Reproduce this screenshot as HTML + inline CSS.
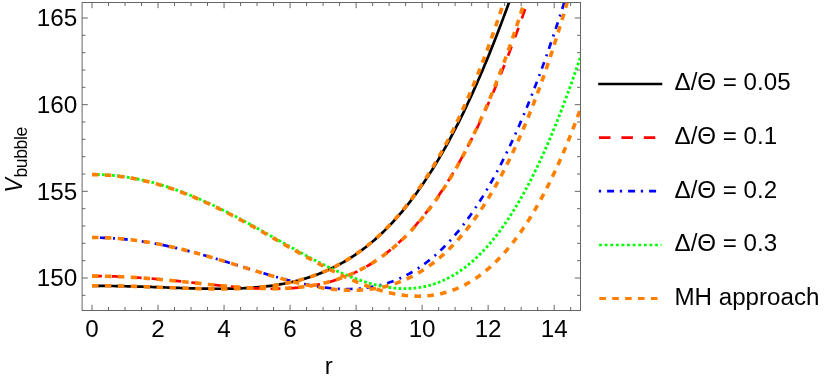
<!DOCTYPE html>
<html><head><meta charset="utf-8"><title>V bubble plot</title>
<style>
html,body{margin:0;padding:0;background:#fff;}
body{width:830px;height:381px;overflow:hidden;font-family:"Liberation Sans",sans-serif;}
svg{display:block;}
</style></head><body>
<svg width="830" height="381" viewBox="0 0 830 381">
<rect x="0" y="0" width="830" height="381" fill="#ffffff"/>
<defs><clipPath id="pc"><rect x="82.1" y="2.5" width="498.4" height="308.0"/></clipPath></defs>
<g clip-path="url(#pc)" fill="none" stroke-linecap="butt" stroke-linejoin="round">
<path d="M92.00,285.85 L93.23,285.85 L94.46,285.85 L95.68,285.85 L96.91,285.85 L98.14,285.86 L99.37,285.86 L100.60,285.87 L101.83,285.88 L103.05,285.89 L104.28,285.90 L105.51,285.91 L106.74,285.92 L107.97,285.94 L109.19,285.95 L110.42,285.97 L111.65,285.98 L112.88,286.00 L114.11,286.02 L115.34,286.04 L116.56,286.06 L117.79,286.08 L119.02,286.10 L120.25,286.13 L121.48,286.15 L122.70,286.18 L123.93,286.20 L125.16,286.23 L126.39,286.26 L127.62,286.29 L128.85,286.31 L130.07,286.35 L131.30,286.38 L132.53,286.41 L133.76,286.44 L134.99,286.47 L136.22,286.51 L137.44,286.54 L138.67,286.58 L139.90,286.62 L141.13,286.65 L142.36,286.69 L143.58,286.73 L144.81,286.77 L146.04,286.81 L147.27,286.85 L148.50,286.89 L149.73,286.93 L150.95,286.97 L152.18,287.01 L153.41,287.05 L154.64,287.09 L155.87,287.13 L157.09,287.18 L158.32,287.22 L159.55,287.26 L160.78,287.31 L162.01,287.35 L163.24,287.39 L164.46,287.44 L165.69,287.48 L166.92,287.52 L168.15,287.57 L169.38,287.61 L170.60,287.66 L171.83,287.70 L173.06,287.74 L174.29,287.78 L175.52,287.83 L176.75,287.87 L177.97,287.91 L179.20,287.95 L180.43,287.99 L181.66,288.03 L182.89,288.07 L184.11,288.11 L185.34,288.15 L186.57,288.19 L187.80,288.23 L189.03,288.27 L190.26,288.30 L191.48,288.34 L192.71,288.37 L193.94,288.40 L195.17,288.43 L196.40,288.47 L197.62,288.50 L198.85,288.52 L200.08,288.55 L201.31,288.58 L202.54,288.60 L203.77,288.63 L204.99,288.65 L206.22,288.67 L207.45,288.69 L208.68,288.70 L209.91,288.72 L211.13,288.73 L212.36,288.74 L213.59,288.75 L214.82,288.76 L216.05,288.77 L217.28,288.77 L218.50,288.77 L219.73,288.77 L220.96,288.77 L222.19,288.76 L223.42,288.76 L224.65,288.74 L225.87,288.73 L227.10,288.72 L228.33,288.70 L229.56,288.68 L230.79,288.65 L232.01,288.63 L233.24,288.60 L234.47,288.56 L235.70,288.53 L236.93,288.49 L238.16,288.45 L239.38,288.40 L240.61,288.35 L241.84,288.30 L243.07,288.24 L244.30,288.18 L245.52,288.11 L246.75,288.05 L247.98,287.97 L249.21,287.90 L250.44,287.82 L251.67,287.73 L252.89,287.64 L254.12,287.55 L255.35,287.45 L256.58,287.35 L257.81,287.24 L259.03,287.13 L260.26,287.01 L261.49,286.89 L262.72,286.77 L263.95,286.63 L265.18,286.50 L266.40,286.35 L267.63,286.21 L268.86,286.05 L270.09,285.89 L271.32,285.73 L272.54,285.56 L273.77,285.38 L275.00,285.20 L276.23,285.01 L277.46,284.82 L278.69,284.62 L279.91,284.41 L281.14,284.19 L282.37,283.97 L283.60,283.75 L284.83,283.51 L286.05,283.27 L287.28,283.02 L288.51,282.77 L289.74,282.50 L290.97,282.23 L292.20,281.96 L293.42,281.67 L294.65,281.38 L295.88,281.08 L297.11,280.77 L298.34,280.45 L299.57,280.13 L300.79,279.79 L302.02,279.45 L303.25,279.10 L304.48,278.74 L305.71,278.37 L306.93,278.00 L308.16,277.61 L309.39,277.22 L310.62,276.81 L311.85,276.40 L313.08,275.98 L314.30,275.55 L315.53,275.10 L316.76,274.65 L317.99,274.19 L319.22,273.72 L320.44,273.24 L321.67,272.74 L322.90,272.24 L324.13,271.73 L325.36,271.20 L326.59,270.67 L327.81,270.12 L329.04,269.56 L330.27,269.00 L331.50,268.42 L332.73,267.82 L333.95,267.22 L335.18,266.61 L336.41,265.98 L337.64,265.34 L338.87,264.69 L340.10,264.03 L341.32,263.35 L342.55,262.67 L343.78,261.96 L345.01,261.25 L346.24,260.53 L347.46,259.79 L348.69,259.03 L349.92,258.27 L351.15,257.49 L352.38,256.70 L353.61,255.89 L354.83,255.07 L356.06,254.23 L357.29,253.39 L358.52,252.52 L359.75,251.64 L360.97,250.75 L362.20,249.85 L363.43,248.93 L364.66,247.99 L365.89,247.04 L367.12,246.07 L368.34,245.09 L369.57,244.09 L370.80,243.08 L372.03,242.05 L373.26,241.01 L374.48,239.94 L375.71,238.87 L376.94,237.78 L378.17,236.67 L379.40,235.54 L380.63,234.40 L381.85,233.24 L383.08,232.06 L384.31,230.87 L385.54,229.66 L386.77,228.43 L388.00,227.18 L389.22,225.92 L390.45,224.64 L391.68,223.34 L392.91,222.02 L394.14,220.69 L395.36,219.34 L396.59,217.97 L397.82,216.58 L399.05,215.17 L400.28,213.74 L401.51,212.29 L402.73,210.83 L403.96,209.35 L405.19,207.84 L406.42,206.32 L407.65,204.78 L408.87,203.22 L410.10,201.63 L411.33,200.03 L412.56,198.41 L413.79,196.77 L415.02,195.11 L416.24,193.43 L417.47,191.73 L418.70,190.00 L419.93,188.26 L421.16,186.50 L422.38,184.71 L423.61,182.91 L424.84,181.08 L426.07,179.23 L427.30,177.37 L428.53,175.48 L429.75,173.56 L430.98,171.63 L432.21,169.68 L433.44,167.70 L434.67,165.70 L435.89,163.68 L437.12,161.64 L438.35,159.58 L439.58,157.49 L440.81,155.39 L442.04,153.26 L443.26,151.10 L444.49,148.93 L445.72,146.73 L446.95,144.51 L448.18,142.27 L449.40,140.01 L450.63,137.72 L451.86,135.41 L453.09,133.08 L454.32,130.72 L455.55,128.34 L456.77,125.94 L458.00,123.52 L459.23,121.07 L460.46,118.60 L461.69,116.11 L462.92,113.59 L464.14,111.05 L465.37,108.49 L466.60,105.90 L467.83,103.29 L469.06,100.66 L470.28,98.01 L471.51,95.33 L472.74,92.62 L473.97,89.90 L475.20,87.15 L476.43,84.38 L477.65,81.58 L478.88,78.77 L480.11,75.93 L481.34,73.06 L482.57,70.17 L483.79,67.26 L485.02,64.33 L486.25,61.37 L487.48,58.39 L488.71,55.39 L489.94,52.37 L491.16,49.32 L492.39,46.25 L493.62,43.16 L494.85,40.04 L496.08,36.90 L497.30,33.74 L498.53,30.56 L499.76,27.35 L500.99,24.13 L502.22,20.88 L503.45,17.61 L504.67,14.32 L505.90,11.00 L507.13,7.67 L508.36,4.31 L509.59,0.93 L510.81,-2.47 L512.04,-5.89 L513.27,-9.33" stroke="#000000" stroke-width="2.7"/>
<path d="M92.00,276.05 L93.23,276.06 L94.46,276.06 L95.68,276.07 L96.91,276.07 L98.14,276.08 L99.37,276.10 L100.60,276.11 L101.83,276.13 L103.05,276.15 L104.28,276.17 L105.51,276.19 L106.74,276.22 L107.97,276.25 L109.19,276.28 L110.42,276.31 L111.65,276.35 L112.88,276.39 L114.11,276.42 L115.34,276.47 L116.56,276.51 L117.79,276.56 L119.02,276.61 L120.25,276.66 L121.48,276.71 L122.70,276.76 L123.93,276.82 L125.16,276.88 L126.39,276.94 L127.62,277.00 L128.85,277.07 L130.07,277.14 L131.30,277.21 L132.53,277.28 L133.76,277.35 L134.99,277.43 L136.22,277.50 L137.44,277.58 L138.67,277.66 L139.90,277.75 L141.13,277.83 L142.36,277.92 L143.58,278.01 L144.81,278.10 L146.04,278.19 L147.27,278.28 L148.50,278.38 L149.73,278.47 L150.95,278.57 L152.18,278.67 L153.41,278.77 L154.64,278.88 L155.87,278.98 L157.09,279.09 L158.32,279.20 L159.55,279.30 L160.78,279.42 L162.01,279.53 L163.24,279.64 L164.46,279.75 L165.69,279.87 L166.92,279.99 L168.15,280.10 L169.38,280.22 L170.60,280.34 L171.83,280.47 L173.06,280.59 L174.29,280.71 L175.52,280.83 L176.75,280.96 L177.97,281.09 L179.20,281.21 L180.43,281.34 L181.66,281.47 L182.89,281.60 L184.11,281.72 L185.34,281.85 L186.57,281.99 L187.80,282.12 L189.03,282.25 L190.26,282.38 L191.48,282.51 L192.71,282.64 L193.94,282.78 L195.17,282.91 L196.40,283.04 L197.62,283.17 L198.85,283.31 L200.08,283.44 L201.31,283.57 L202.54,283.70 L203.77,283.84 L204.99,283.97 L206.22,284.10 L207.45,284.23 L208.68,284.36 L209.91,284.49 L211.13,284.62 L212.36,284.75 L213.59,284.88 L214.82,285.00 L216.05,285.13 L217.28,285.26 L218.50,285.38 L219.73,285.51 L220.96,285.63 L222.19,285.75 L223.42,285.87 L224.65,285.99 L225.87,286.11 L227.10,286.22 L228.33,286.34 L229.56,286.45 L230.79,286.56 L232.01,286.67 L233.24,286.78 L234.47,286.88 L235.70,286.98 L236.93,287.09 L238.16,287.19 L239.38,287.28 L240.61,287.38 L241.84,287.47 L243.07,287.56 L244.30,287.65 L245.52,287.73 L246.75,287.81 L247.98,287.89 L249.21,287.97 L250.44,288.04 L251.67,288.11 L252.89,288.18 L254.12,288.25 L255.35,288.31 L256.58,288.36 L257.81,288.42 L259.03,288.47 L260.26,288.51 L261.49,288.56 L262.72,288.60 L263.95,288.63 L265.18,288.66 L266.40,288.69 L267.63,288.71 L268.86,288.73 L270.09,288.74 L271.32,288.75 L272.54,288.76 L273.77,288.76 L275.00,288.75 L276.23,288.74 L277.46,288.73 L278.69,288.71 L279.91,288.68 L281.14,288.65 L282.37,288.62 L283.60,288.57 L284.83,288.53 L286.05,288.47 L287.28,288.41 L288.51,288.35 L289.74,288.28 L290.97,288.20 L292.20,288.12 L293.42,288.03 L294.65,287.93 L295.88,287.83 L297.11,287.72 L298.34,287.60 L299.57,287.47 L300.79,287.34 L302.02,287.21 L303.25,287.06 L304.48,286.91 L305.71,286.74 L306.93,286.58 L308.16,286.40 L309.39,286.22 L310.62,286.02 L311.85,285.82 L313.08,285.61 L314.30,285.40 L315.53,285.17 L316.76,284.93 L317.99,284.69 L319.22,284.44 L320.44,284.18 L321.67,283.91 L322.90,283.63 L324.13,283.34 L325.36,283.04 L326.59,282.73 L327.81,282.41 L329.04,282.08 L330.27,281.74 L331.50,281.39 L332.73,281.03 L333.95,280.66 L335.18,280.28 L336.41,279.89 L337.64,279.49 L338.87,279.08 L340.10,278.65 L341.32,278.21 L342.55,277.77 L343.78,277.31 L345.01,276.84 L346.24,276.36 L347.46,275.86 L348.69,275.35 L349.92,274.83 L351.15,274.30 L352.38,273.76 L353.61,273.20 L354.83,272.63 L356.06,272.05 L357.29,271.46 L358.52,270.85 L359.75,270.22 L360.97,269.59 L362.20,268.94 L363.43,268.28 L364.66,267.60 L365.89,266.91 L367.12,266.20 L368.34,265.48 L369.57,264.75 L370.80,264.00 L372.03,263.23 L373.26,262.45 L374.48,261.66 L375.71,260.85 L376.94,260.03 L378.17,259.19 L379.40,258.33 L380.63,257.46 L381.85,256.57 L383.08,255.67 L384.31,254.75 L385.54,253.81 L386.77,252.86 L388.00,251.89 L389.22,250.90 L390.45,249.89 L391.68,248.87 L392.91,247.83 L394.14,246.78 L395.36,245.71 L396.59,244.61 L397.82,243.51 L399.05,242.38 L400.28,241.23 L401.51,240.07 L402.73,238.89 L403.96,237.69 L405.19,236.47 L406.42,235.23 L407.65,233.98 L408.87,232.70 L410.10,231.40 L411.33,230.09 L412.56,228.76 L413.79,227.40 L415.02,226.03 L416.24,224.63 L417.47,223.22 L418.70,221.79 L419.93,220.33 L421.16,218.86 L422.38,217.36 L423.61,215.85 L424.84,214.31 L426.07,212.75 L427.30,211.17 L428.53,209.57 L429.75,207.95 L430.98,206.31 L432.21,204.64 L433.44,202.96 L434.67,201.25 L435.89,199.52 L437.12,197.77 L438.35,195.99 L439.58,194.19 L440.81,192.37 L442.04,190.53 L443.26,188.67 L444.49,186.78 L445.72,184.87 L446.95,182.93 L448.18,180.98 L449.40,179.00 L450.63,176.99 L451.86,174.97 L453.09,172.92 L454.32,170.84 L455.55,168.74 L456.77,166.62 L458.00,164.48 L459.23,162.31 L460.46,160.11 L461.69,157.89 L462.92,155.65 L464.14,153.39 L465.37,151.09 L466.60,148.78 L467.83,146.44 L469.06,144.07 L470.28,141.68 L471.51,139.27 L472.74,136.83 L473.97,134.36 L475.20,131.87 L476.43,129.36 L477.65,126.82 L478.88,124.25 L480.11,121.66 L481.34,119.05 L482.57,116.41 L483.79,113.74 L485.02,111.05 L486.25,108.33 L487.48,105.59 L488.71,102.82 L489.94,100.03 L491.16,97.21 L492.39,94.36 L493.62,91.49 L494.85,88.60 L496.08,85.67 L497.30,82.73 L498.53,79.75 L499.76,76.75 L500.99,73.73 L502.22,70.68 L503.45,67.60 L504.67,64.50 L505.90,61.37 L507.13,58.22 L508.36,55.04 L509.59,51.84 L510.81,48.61 L512.04,45.35 L513.27,42.07 L514.50,38.77 L515.73,35.44 L516.96,32.08 L518.18,28.70 L519.41,25.29 L520.64,21.86 L521.87,18.40 L523.10,14.92 L524.32,11.42 L525.55,7.89 L526.78,4.33 L528.01,0.75 L529.24,-2.85 L530.47,-6.48 L531.69,-10.13" stroke="#ff0000" stroke-width="2.7" stroke-dasharray="9.9 10"/>
<path d="M92.00,237.62 L93.23,237.63 L94.46,237.63 L95.68,237.64 L96.91,237.66 L98.14,237.68 L99.37,237.71 L100.60,237.74 L101.83,237.77 L103.05,237.81 L104.28,237.86 L105.51,237.90 L106.74,237.96 L107.97,238.02 L109.19,238.08 L110.42,238.15 L111.65,238.22 L112.88,238.29 L114.11,238.38 L115.34,238.46 L116.56,238.55 L117.79,238.65 L119.02,238.75 L120.25,238.85 L121.48,238.96 L122.70,239.07 L123.93,239.19 L125.16,239.31 L126.39,239.43 L127.62,239.56 L128.85,239.70 L130.07,239.84 L131.30,239.98 L132.53,240.13 L133.76,240.28 L134.99,240.44 L136.22,240.60 L137.44,240.77 L138.67,240.94 L139.90,241.11 L141.13,241.29 L142.36,241.47 L143.58,241.65 L144.81,241.85 L146.04,242.04 L147.27,242.24 L148.50,242.44 L149.73,242.65 L150.95,242.86 L152.18,243.07 L153.41,243.29 L154.64,243.51 L155.87,243.74 L157.09,243.97 L158.32,244.20 L159.55,244.44 L160.78,244.68 L162.01,244.93 L163.24,245.18 L164.46,245.43 L165.69,245.68 L166.92,245.94 L168.15,246.21 L169.38,246.47 L170.60,246.74 L171.83,247.02 L173.06,247.29 L174.29,247.57 L175.52,247.86 L176.75,248.14 L177.97,248.43 L179.20,248.73 L180.43,249.02 L181.66,249.32 L182.89,249.62 L184.11,249.93 L185.34,250.24 L186.57,250.55 L187.80,250.86 L189.03,251.18 L190.26,251.50 L191.48,251.82 L192.71,252.15 L193.94,252.47 L195.17,252.80 L196.40,253.13 L197.62,253.47 L198.85,253.81 L200.08,254.15 L201.31,254.49 L202.54,254.83 L203.77,255.18 L204.99,255.53 L206.22,255.88 L207.45,256.23 L208.68,256.58 L209.91,256.94 L211.13,257.30 L212.36,257.66 L213.59,258.02 L214.82,258.38 L216.05,258.75 L217.28,259.11 L218.50,259.48 L219.73,259.85 L220.96,260.22 L222.19,260.59 L223.42,260.96 L224.65,261.33 L225.87,261.71 L227.10,262.08 L228.33,262.46 L229.56,262.84 L230.79,263.21 L232.01,263.59 L233.24,263.97 L234.47,264.35 L235.70,264.73 L236.93,265.11 L238.16,265.49 L239.38,265.87 L240.61,266.25 L241.84,266.63 L243.07,267.02 L244.30,267.40 L245.52,267.78 L246.75,268.16 L247.98,268.54 L249.21,268.92 L250.44,269.30 L251.67,269.67 L252.89,270.05 L254.12,270.43 L255.35,270.80 L256.58,271.18 L257.81,271.55 L259.03,271.93 L260.26,272.30 L261.49,272.67 L262.72,273.04 L263.95,273.40 L265.18,273.77 L266.40,274.13 L267.63,274.49 L268.86,274.86 L270.09,275.21 L271.32,275.57 L272.54,275.92 L273.77,276.28 L275.00,276.62 L276.23,276.97 L277.46,277.32 L278.69,277.66 L279.91,278.00 L281.14,278.33 L282.37,278.66 L283.60,278.99 L284.83,279.32 L286.05,279.64 L287.28,279.96 L288.51,280.28 L289.74,280.59 L290.97,280.90 L292.20,281.21 L293.42,281.51 L294.65,281.81 L295.88,282.10 L297.11,282.39 L298.34,282.67 L299.57,282.95 L300.79,283.23 L302.02,283.50 L303.25,283.76 L304.48,284.02 L305.71,284.28 L306.93,284.53 L308.16,284.77 L309.39,285.01 L310.62,285.24 L311.85,285.47 L313.08,285.69 L314.30,285.91 L315.53,286.12 L316.76,286.32 L317.99,286.52 L319.22,286.71 L320.44,286.90 L321.67,287.08 L322.90,287.25 L324.13,287.41 L325.36,287.57 L326.59,287.72 L327.81,287.86 L329.04,287.99 L330.27,288.12 L331.50,288.24 L332.73,288.35 L333.95,288.45 L335.18,288.55 L336.41,288.64 L337.64,288.72 L338.87,288.79 L340.10,288.85 L341.32,288.90 L342.55,288.94 L343.78,288.98 L345.01,289.00 L346.24,289.02 L347.46,289.02 L348.69,289.02 L349.92,289.01 L351.15,288.98 L352.38,288.95 L353.61,288.91 L354.83,288.85 L356.06,288.79 L357.29,288.71 L358.52,288.63 L359.75,288.53 L360.97,288.42 L362.20,288.30 L363.43,288.17 L364.66,288.03 L365.89,287.87 L367.12,287.71 L368.34,287.53 L369.57,287.34 L370.80,287.13 L372.03,286.92 L373.26,286.69 L374.48,286.45 L375.71,286.20 L376.94,285.93 L378.17,285.65 L379.40,285.36 L380.63,285.05 L381.85,284.73 L383.08,284.39 L384.31,284.05 L385.54,283.68 L386.77,283.31 L388.00,282.91 L389.22,282.51 L390.45,282.09 L391.68,281.65 L392.91,281.20 L394.14,280.73 L395.36,280.25 L396.59,279.76 L397.82,279.24 L399.05,278.71 L400.28,278.17 L401.51,277.61 L402.73,277.03 L403.96,276.44 L405.19,275.82 L406.42,275.20 L407.65,274.55 L408.87,273.89 L410.10,273.21 L411.33,272.51 L412.56,271.80 L413.79,271.07 L415.02,270.32 L416.24,269.55 L417.47,268.76 L418.70,267.96 L419.93,267.13 L421.16,266.29 L422.38,265.43 L423.61,264.55 L424.84,263.65 L426.07,262.73 L427.30,261.79 L428.53,260.83 L429.75,259.86 L430.98,258.86 L432.21,257.84 L433.44,256.80 L434.67,255.74 L435.89,254.66 L437.12,253.56 L438.35,252.44 L439.58,251.30 L440.81,250.13 L442.04,248.95 L443.26,247.74 L444.49,246.51 L445.72,245.26 L446.95,243.99 L448.18,242.69 L449.40,241.38 L450.63,240.04 L451.86,238.67 L453.09,237.29 L454.32,235.88 L455.55,234.45 L456.77,232.99 L458.00,231.52 L459.23,230.01 L460.46,228.49 L461.69,226.94 L462.92,225.37 L464.14,223.77 L465.37,222.15 L466.60,220.50 L467.83,218.83 L469.06,217.14 L470.28,215.42 L471.51,213.68 L472.74,211.91 L473.97,210.11 L475.20,208.29 L476.43,206.45 L477.65,204.58 L478.88,202.68 L480.11,200.76 L481.34,198.81 L482.57,196.84 L483.79,194.83 L485.02,192.81 L486.25,190.75 L487.48,188.67 L488.71,186.57 L489.94,184.44 L491.16,182.27 L492.39,180.09 L493.62,177.87 L494.85,175.63 L496.08,173.36 L497.30,171.07 L498.53,168.74 L499.76,166.39 L500.99,164.01 L502.22,161.61 L503.45,159.17 L504.67,156.71 L505.90,154.22 L507.13,151.70 L508.36,149.15 L509.59,146.58 L510.81,143.97 L512.04,141.34 L513.27,138.68 L514.50,135.99 L515.73,133.27 L516.96,130.52 L518.18,127.75 L519.41,124.94 L520.64,122.11 L521.87,119.25 L523.10,116.35 L524.32,113.43 L525.55,110.48 L526.78,107.50 L528.01,104.50 L529.24,101.46 L530.47,98.39 L531.69,95.29 L532.92,92.17 L534.15,89.01 L535.38,85.83 L536.61,82.61 L537.83,79.37 L539.06,76.10 L540.29,72.80 L541.52,69.46 L542.75,66.10 L543.98,62.71 L545.20,59.29 L546.43,55.84 L547.66,52.36 L548.89,48.85 L550.12,45.31 L551.35,41.75 L552.57,38.15 L553.80,34.52 L555.03,30.87 L556.26,27.18 L557.49,23.47 L558.71,19.73 L559.94,15.95 L561.17,12.15 L562.40,8.32 L563.63,4.46 L564.86,0.58 L566.08,-3.34 L567.31,-7.29 L568.54,-11.26" stroke="#0000ff" stroke-width="2.7" stroke-dasharray="2 5.9 6.9 6.2"/>
<path d="M92.00,174.37 L93.23,174.38 L94.46,174.39 L95.68,174.40 L96.91,174.43 L98.14,174.46 L99.37,174.50 L100.60,174.54 L101.83,174.59 L103.05,174.65 L104.28,174.71 L105.51,174.79 L106.74,174.86 L107.97,174.95 L109.19,175.04 L110.42,175.14 L111.65,175.24 L112.88,175.35 L114.11,175.47 L115.34,175.60 L116.56,175.73 L117.79,175.87 L119.02,176.01 L120.25,176.17 L121.48,176.33 L122.70,176.49 L123.93,176.66 L125.16,176.84 L126.39,177.03 L127.62,177.22 L128.85,177.42 L130.07,177.62 L131.30,177.83 L132.53,178.05 L133.76,178.28 L134.99,178.51 L136.22,178.74 L137.44,178.99 L138.67,179.24 L139.90,179.49 L141.13,179.76 L142.36,180.03 L143.58,180.30 L144.81,180.59 L146.04,180.87 L147.27,181.17 L148.50,181.47 L149.73,181.78 L150.95,182.09 L152.18,182.41 L153.41,182.74 L154.64,183.07 L155.87,183.41 L157.09,183.75 L158.32,184.10 L159.55,184.46 L160.78,184.82 L162.01,185.19 L163.24,185.56 L164.46,185.94 L165.69,186.32 L166.92,186.72 L168.15,187.11 L169.38,187.52 L170.60,187.92 L171.83,188.34 L173.06,188.76 L174.29,189.18 L175.52,189.62 L176.75,190.05 L177.97,190.49 L179.20,190.94 L180.43,191.39 L181.66,191.85 L182.89,192.32 L184.11,192.78 L185.34,193.26 L186.57,193.74 L187.80,194.22 L189.03,194.71 L190.26,195.21 L191.48,195.71 L192.71,196.21 L193.94,196.72 L195.17,197.23 L196.40,197.75 L197.62,198.28 L198.85,198.81 L200.08,199.34 L201.31,199.88 L202.54,200.42 L203.77,200.97 L204.99,201.52 L206.22,202.07 L207.45,202.63 L208.68,203.20 L209.91,203.77 L211.13,204.34 L212.36,204.92 L213.59,205.50 L214.82,206.08 L216.05,206.67 L217.28,207.27 L218.50,207.86 L219.73,208.46 L220.96,209.07 L222.19,209.68 L223.42,210.29 L224.65,210.90 L225.87,211.52 L227.10,212.14 L228.33,212.77 L229.56,213.40 L230.79,214.03 L232.01,214.66 L233.24,215.30 L234.47,215.94 L235.70,216.58 L236.93,217.23 L238.16,217.88 L239.38,218.53 L240.61,219.19 L241.84,219.84 L243.07,220.50 L244.30,221.16 L245.52,221.83 L246.75,222.49 L247.98,223.16 L249.21,223.83 L250.44,224.50 L251.67,225.18 L252.89,225.85 L254.12,226.53 L255.35,227.21 L256.58,227.89 L257.81,228.58 L259.03,229.26 L260.26,229.94 L261.49,230.63 L262.72,231.32 L263.95,232.01 L265.18,232.70 L266.40,233.39 L267.63,234.08 L268.86,234.77 L270.09,235.46 L271.32,236.16 L272.54,236.85 L273.77,237.54 L275.00,238.24 L276.23,238.93 L277.46,239.62 L278.69,240.32 L279.91,241.01 L281.14,241.70 L282.37,242.40 L283.60,243.09 L284.83,243.78 L286.05,244.47 L287.28,245.16 L288.51,245.85 L289.74,246.54 L290.97,247.23 L292.20,247.91 L293.42,248.60 L294.65,249.28 L295.88,249.96 L297.11,250.64 L298.34,251.32 L299.57,252.00 L300.79,252.67 L302.02,253.34 L303.25,254.01 L304.48,254.68 L305.71,255.34 L306.93,256.01 L308.16,256.67 L309.39,257.32 L310.62,257.98 L311.85,258.63 L313.08,259.28 L314.30,259.92 L315.53,260.56 L316.76,261.20 L317.99,261.83 L319.22,262.46 L320.44,263.09 L321.67,263.71 L322.90,264.32 L324.13,264.94 L325.36,265.55 L326.59,266.15 L327.81,266.75 L329.04,267.34 L330.27,267.93 L331.50,268.52 L332.73,269.10 L333.95,269.67 L335.18,270.24 L336.41,270.80 L337.64,271.36 L338.87,271.91 L340.10,272.45 L341.32,272.99 L342.55,273.52 L343.78,274.05 L345.01,274.56 L346.24,275.08 L347.46,275.58 L348.69,276.08 L349.92,276.57 L351.15,277.05 L352.38,277.53 L353.61,277.99 L354.83,278.45 L356.06,278.91 L357.29,279.35 L358.52,279.78 L359.75,280.21 L360.97,280.63 L362.20,281.04 L363.43,281.44 L364.66,281.83 L365.89,282.21 L367.12,282.59 L368.34,282.95 L369.57,283.30 L370.80,283.65 L372.03,283.98 L373.26,284.30 L374.48,284.62 L375.71,284.92 L376.94,285.21 L378.17,285.49 L379.40,285.76 L380.63,286.02 L381.85,286.27 L383.08,286.51 L384.31,286.73 L385.54,286.95 L386.77,287.15 L388.00,287.33 L389.22,287.51 L390.45,287.68 L391.68,287.83 L392.91,287.96 L394.14,288.09 L395.36,288.20 L396.59,288.30 L397.82,288.39 L399.05,288.46 L400.28,288.52 L401.51,288.56 L402.73,288.59 L403.96,288.61 L405.19,288.61 L406.42,288.59 L407.65,288.56 L408.87,288.52 L410.10,288.46 L411.33,288.39 L412.56,288.30 L413.79,288.19 L415.02,288.07 L416.24,287.93 L417.47,287.78 L418.70,287.61 L419.93,287.42 L421.16,287.21 L422.38,286.99 L423.61,286.75 L424.84,286.50 L426.07,286.23 L427.30,285.93 L428.53,285.63 L429.75,285.30 L430.98,284.95 L432.21,284.59 L433.44,284.21 L434.67,283.81 L435.89,283.39 L437.12,282.95 L438.35,282.49 L439.58,282.01 L440.81,281.51 L442.04,281.00 L443.26,280.46 L444.49,279.90 L445.72,279.32 L446.95,278.72 L448.18,278.10 L449.40,277.46 L450.63,276.80 L451.86,276.12 L453.09,275.41 L454.32,274.69 L455.55,273.94 L456.77,273.17 L458.00,272.38 L459.23,271.56 L460.46,270.73 L461.69,269.87 L462.92,268.98 L464.14,268.08 L465.37,267.15 L466.60,266.20 L467.83,265.22 L469.06,264.22 L470.28,263.20 L471.51,262.15 L472.74,261.08 L473.97,259.98 L475.20,258.86 L476.43,257.72 L477.65,256.55 L478.88,255.35 L480.11,254.13 L481.34,252.89 L482.57,251.62 L483.79,250.32 L485.02,249.00 L486.25,247.65 L487.48,246.27 L488.71,244.87 L489.94,243.44 L491.16,241.99 L492.39,240.51 L493.62,239.00 L494.85,237.46 L496.08,235.90 L497.30,234.31 L498.53,232.69 L499.76,231.04 L500.99,229.37 L502.22,227.67 L503.45,225.94 L504.67,224.18 L505.90,222.40 L507.13,220.58 L508.36,218.74 L509.59,216.87 L510.81,214.97 L512.04,213.04 L513.27,211.08 L514.50,209.09 L515.73,207.07 L516.96,205.02 L518.18,202.95 L519.41,200.84 L520.64,198.70 L521.87,196.53 L523.10,194.34 L524.32,192.11 L525.55,189.85 L526.78,187.57 L528.01,185.25 L529.24,182.90 L530.47,180.52 L531.69,178.11 L532.92,175.67 L534.15,173.19 L535.38,170.69 L536.61,168.15 L537.83,165.59 L539.06,162.99 L540.29,160.36 L541.52,157.70 L542.75,155.01 L543.98,152.29 L545.20,149.53 L546.43,146.75 L547.66,143.93 L548.89,141.08 L550.12,138.20 L551.35,135.28 L552.57,132.34 L553.80,129.36 L555.03,126.35 L556.26,123.31 L557.49,120.23 L558.71,117.13 L559.94,113.99 L561.17,110.82 L562.40,107.61 L563.63,104.38 L564.86,101.11 L566.08,97.81 L567.31,94.48 L568.54,91.12 L569.77,87.73 L571.00,84.30 L572.22,80.84 L573.45,77.35 L574.68,73.82 L575.91,70.27 L577.14,66.68 L578.37,63.06 L579.59,59.41 L580.82,55.73 L582.05,52.01" stroke="#00ff00" stroke-width="2.85" stroke-dasharray="2.7 2.31"/>
<path d="M92.00,285.69 L93.23,285.69 L94.46,285.69 L95.68,285.70 L96.91,285.70 L98.14,285.71 L99.37,285.71 L100.60,285.72 L101.83,285.73 L103.05,285.74 L104.28,285.75 L105.51,285.76 L106.74,285.78 L107.97,285.79 L109.19,285.81 L110.42,285.83 L111.65,285.84 L112.88,285.86 L114.11,285.88 L115.34,285.91 L116.56,285.93 L117.79,285.95 L119.02,285.98 L120.25,286.00 L121.48,286.03 L122.70,286.06 L123.93,286.08 L125.16,286.11 L126.39,286.15 L127.62,286.18 L128.85,286.21 L130.07,286.24 L131.30,286.28 L132.53,286.31 L133.76,286.35 L134.99,286.38 L136.22,286.42 L137.44,286.46 L138.67,286.50 L139.90,286.54 L141.13,286.58 L142.36,286.62 L143.58,286.66 L144.81,286.71 L146.04,286.75 L147.27,286.79 L148.50,286.84 L149.73,286.88 L150.95,286.93 L152.18,286.97 L153.41,287.02 L154.64,287.06 L155.87,287.11 L157.09,287.16 L158.32,287.20 L159.55,287.25 L160.78,287.30 L162.01,287.35 L163.24,287.39 L164.46,287.44 L165.69,287.49 L166.92,287.54 L168.15,287.59 L169.38,287.63 L170.60,287.68 L171.83,287.73 L173.06,287.78 L174.29,287.82 L175.52,287.87 L176.75,287.92 L177.97,287.96 L179.20,288.01 L180.43,288.05 L181.66,288.10 L182.89,288.14 L184.11,288.18 L185.34,288.23 L186.57,288.27 L187.80,288.31 L189.03,288.35 L190.26,288.39 L191.48,288.43 L192.71,288.47 L193.94,288.50 L195.17,288.54 L196.40,288.57 L197.62,288.61 L198.85,288.64 L200.08,288.67 L201.31,288.70 L202.54,288.72 L203.77,288.75 L204.99,288.77 L206.22,288.80 L207.45,288.82 L208.68,288.84 L209.91,288.86 L211.13,288.87 L212.36,288.89 L213.59,288.90 L214.82,288.91 L216.05,288.91 L217.28,288.92 L218.50,288.92 L219.73,288.92 L220.96,288.92 L222.19,288.92 L223.42,288.91 L224.65,288.90 L225.87,288.89 L227.10,288.88 L228.33,288.86 L229.56,288.84 L230.79,288.82 L232.01,288.79 L233.24,288.76 L234.47,288.73 L235.70,288.69 L236.93,288.65 L238.16,288.61 L239.38,288.56 L240.61,288.51 L241.84,288.46 L243.07,288.40 L244.30,288.34 L245.52,288.27 L246.75,288.20 L247.98,288.13 L249.21,288.05 L250.44,287.97 L251.67,287.89 L252.89,287.80 L254.12,287.70 L255.35,287.60 L256.58,287.50 L257.81,287.39 L259.03,287.27 L260.26,287.15 L261.49,287.03 L262.72,286.90 L263.95,286.77 L265.18,286.63 L266.40,286.48 L267.63,286.33 L268.86,286.17 L270.09,286.01 L271.32,285.84 L272.54,285.67 L273.77,285.49 L275.00,285.31 L276.23,285.11 L277.46,284.91 L278.69,284.71 L279.91,284.50 L281.14,284.28 L282.37,284.06 L283.60,283.82 L284.83,283.59 L286.05,283.34 L287.28,283.09 L288.51,282.83 L289.74,282.56 L290.97,282.29 L292.20,282.01 L293.42,281.72 L294.65,281.42 L295.88,281.11 L297.11,280.80 L298.34,280.48 L299.57,280.15 L300.79,279.81 L302.02,279.46 L303.25,279.11 L304.48,278.75 L305.71,278.37 L306.93,277.99 L308.16,277.60 L309.39,277.20 L310.62,276.79 L311.85,276.38 L313.08,275.95 L314.30,275.51 L315.53,275.06 L316.76,274.61 L317.99,274.14 L319.22,273.66 L320.44,273.18 L321.67,272.68 L322.90,272.17 L324.13,271.65 L325.36,271.12 L326.59,270.58 L327.81,270.03 L329.04,269.47 L330.27,268.90 L331.50,268.31 L332.73,267.72 L333.95,267.11 L335.18,266.49 L336.41,265.86 L337.64,265.22 L338.87,264.56 L340.10,263.89 L341.32,263.21 L342.55,262.52 L343.78,261.82 L345.01,261.10 L346.24,260.37 L347.46,259.62 L348.69,258.87 L349.92,258.10 L351.15,257.31 L352.38,256.51 L353.61,255.70 L354.83,254.88 L356.06,254.04 L357.29,253.18 L358.52,252.32 L359.75,251.43 L360.97,250.54 L362.20,249.62 L363.43,248.70 L364.66,247.75 L365.89,246.80 L367.12,245.82 L368.34,244.84 L369.57,243.83 L370.80,242.81 L372.03,241.78 L373.26,240.73 L374.48,239.66 L375.71,238.57 L376.94,237.47 L378.17,236.35 L379.40,235.22 L380.63,234.07 L381.85,232.90 L383.08,231.71 L384.31,230.51 L385.54,229.29 L386.77,228.05 L388.00,226.79 L389.22,225.51 L390.45,224.22 L391.68,222.91 L392.91,221.58 L394.14,220.23 L395.36,218.86 L396.59,217.47 L397.82,216.06 L399.05,214.64 L400.28,213.19 L401.51,211.72 L402.73,210.24 L403.96,208.73 L405.19,207.20 L406.42,205.66 L407.65,204.09 L408.87,202.50 L410.10,200.89 L411.33,199.26 L412.56,197.61 L413.79,195.94 L415.02,194.24 L416.24,192.52 L417.47,190.78 L418.70,189.02 L419.93,187.24 L421.16,185.43 L422.38,183.60 L423.61,181.75 L424.84,179.88 L426.07,177.98 L427.30,176.06 L428.53,174.11 L429.75,172.14 L430.98,170.15 L432.21,168.13 L433.44,166.09 L434.67,164.02 L435.89,161.93 L437.12,159.82 L438.35,157.67 L439.58,155.51 L440.81,153.32 L442.04,151.10 L443.26,148.85 L444.49,146.59 L445.72,144.29 L446.95,141.97 L448.18,139.62 L449.40,137.24 L450.63,134.84 L451.86,132.41 L453.09,129.95 L454.32,127.47 L455.55,124.95 L456.77,122.41 L458.00,119.84 L459.23,117.25 L460.46,114.62 L461.69,111.96 L462.92,109.28 L464.14,106.57 L465.37,103.82 L466.60,101.05 L467.83,98.25 L469.06,95.42 L470.28,92.56 L471.51,89.66 L472.74,86.74 L473.97,83.79 L475.20,80.80 L476.43,77.78 L477.65,74.74 L478.88,71.66 L480.11,68.55 L481.34,65.40 L482.57,62.23 L483.79,59.02 L485.02,55.78 L486.25,52.50 L487.48,49.20 L488.71,45.86 L489.94,42.48 L491.16,39.07 L492.39,35.63 L493.62,32.16 L494.85,28.65 L496.08,25.10 L497.30,21.52 L498.53,17.90 L499.76,14.25 L500.99,10.57 L502.22,6.85 L503.45,3.09 L504.67,-0.71 L505.90,-4.54 L507.13,-8.40" stroke="#ff8000" stroke-width="3.6" stroke-dasharray="6.5 6.41"/>
<path d="M92.00,276.10 L93.23,276.10 L94.46,276.10 L95.68,276.11 L96.91,276.12 L98.14,276.13 L99.37,276.14 L100.60,276.16 L101.83,276.17 L103.05,276.19 L104.28,276.22 L105.51,276.24 L106.74,276.27 L107.97,276.30 L109.19,276.33 L110.42,276.36 L111.65,276.40 L112.88,276.44 L114.11,276.48 L115.34,276.52 L116.56,276.56 L117.79,276.61 L119.02,276.66 L120.25,276.71 L121.48,276.76 L122.70,276.82 L123.93,276.88 L125.16,276.94 L126.39,277.00 L127.62,277.06 L128.85,277.13 L130.07,277.20 L131.30,277.27 L132.53,277.34 L133.76,277.42 L134.99,277.49 L136.22,277.57 L137.44,277.65 L138.67,277.73 L139.90,277.82 L141.13,277.90 L142.36,277.99 L143.58,278.08 L144.81,278.17 L146.04,278.26 L147.27,278.36 L148.50,278.45 L149.73,278.55 L150.95,278.65 L152.18,278.75 L153.41,278.85 L154.64,278.96 L155.87,279.06 L157.09,279.17 L158.32,279.28 L159.55,279.39 L160.78,279.50 L162.01,279.61 L163.24,279.72 L164.46,279.84 L165.69,279.96 L166.92,280.07 L168.15,280.19 L169.38,280.31 L170.60,280.43 L171.83,280.55 L173.06,280.68 L174.29,280.80 L175.52,280.92 L176.75,281.05 L177.97,281.17 L179.20,281.30 L180.43,281.43 L181.66,281.56 L182.89,281.69 L184.11,281.81 L185.34,281.94 L186.57,282.07 L187.80,282.20 L189.03,282.34 L190.26,282.47 L191.48,282.60 L192.71,282.73 L193.94,282.86 L195.17,282.99 L196.40,283.12 L197.62,283.26 L198.85,283.39 L200.08,283.52 L201.31,283.65 L202.54,283.78 L203.77,283.91 L204.99,284.04 L206.22,284.17 L207.45,284.30 L208.68,284.43 L209.91,284.56 L211.13,284.69 L212.36,284.81 L213.59,284.94 L214.82,285.07 L216.05,285.19 L217.28,285.31 L218.50,285.44 L219.73,285.56 L220.96,285.68 L222.19,285.80 L223.42,285.91 L224.65,286.03 L225.87,286.14 L227.10,286.26 L228.33,286.37 L229.56,286.48 L230.79,286.58 L232.01,286.69 L233.24,286.79 L234.47,286.90 L235.70,287.00 L236.93,287.09 L238.16,287.19 L239.38,287.28 L240.61,287.37 L241.84,287.46 L243.07,287.55 L244.30,287.63 L245.52,287.71 L246.75,287.79 L247.98,287.87 L249.21,287.94 L250.44,288.01 L251.67,288.07 L252.89,288.14 L254.12,288.19 L255.35,288.25 L256.58,288.30 L257.81,288.35 L259.03,288.40 L260.26,288.44 L261.49,288.48 L262.72,288.51 L263.95,288.54 L265.18,288.57 L266.40,288.59 L267.63,288.61 L268.86,288.62 L270.09,288.63 L271.32,288.63 L272.54,288.63 L273.77,288.63 L275.00,288.62 L276.23,288.60 L277.46,288.58 L278.69,288.56 L279.91,288.53 L281.14,288.49 L282.37,288.45 L283.60,288.41 L284.83,288.35 L286.05,288.30 L287.28,288.23 L288.51,288.16 L289.74,288.09 L290.97,288.00 L292.20,287.92 L293.42,287.82 L294.65,287.72 L295.88,287.61 L297.11,287.50 L298.34,287.38 L299.57,287.25 L300.79,287.12 L302.02,286.97 L303.25,286.82 L304.48,286.67 L305.71,286.50 L306.93,286.33 L308.16,286.15 L309.39,285.97 L310.62,285.77 L311.85,285.57 L313.08,285.36 L314.30,285.14 L315.53,284.91 L316.76,284.67 L317.99,284.43 L319.22,284.18 L320.44,283.91 L321.67,283.64 L322.90,283.36 L324.13,283.07 L325.36,282.77 L326.59,282.46 L327.81,282.14 L329.04,281.82 L330.27,281.48 L331.50,281.13 L332.73,280.77 L333.95,280.40 L335.18,280.03 L336.41,279.64 L337.64,279.24 L338.87,278.83 L340.10,278.41 L341.32,277.97 L342.55,277.53 L343.78,277.08 L345.01,276.61 L346.24,276.13 L347.46,275.64 L348.69,275.14 L349.92,274.63 L351.15,274.10 L352.38,273.57 L353.61,273.02 L354.83,272.45 L356.06,271.88 L357.29,271.29 L358.52,270.69 L359.75,270.08 L360.97,269.45 L362.20,268.81 L363.43,268.15 L364.66,267.49 L365.89,266.81 L367.12,266.11 L368.34,265.40 L369.57,264.68 L370.80,263.94 L372.03,263.19 L373.26,262.42 L374.48,261.64 L375.71,260.84 L376.94,260.03 L378.17,259.20 L379.40,258.36 L380.63,257.50 L381.85,256.63 L383.08,255.74 L384.31,254.83 L385.54,253.91 L386.77,252.97 L388.00,252.02 L389.22,251.04 L390.45,250.06 L391.68,249.05 L392.91,248.03 L394.14,246.99 L395.36,245.93 L396.59,244.85 L397.82,243.76 L399.05,242.65 L400.28,241.52 L401.51,240.37 L402.73,239.21 L403.96,238.02 L405.19,236.82 L406.42,235.60 L407.65,234.36 L408.87,233.10 L410.10,231.82 L411.33,230.52 L412.56,229.20 L413.79,227.86 L415.02,226.50 L416.24,225.12 L417.47,223.72 L418.70,222.30 L419.93,220.86 L421.16,219.40 L422.38,217.91 L423.61,216.41 L424.84,214.88 L426.07,213.33 L427.30,211.76 L428.53,210.17 L429.75,208.56 L430.98,206.92 L432.21,205.26 L433.44,203.58 L434.67,201.87 L435.89,200.14 L437.12,198.39 L438.35,196.62 L439.58,194.82 L440.81,193.00 L442.04,191.15 L443.26,189.28 L444.49,187.38 L445.72,185.46 L446.95,183.52 L448.18,181.55 L449.40,179.55 L450.63,177.53 L451.86,175.49 L453.09,173.42 L454.32,171.32 L455.55,169.19 L456.77,167.04 L458.00,164.87 L459.23,162.66 L460.46,160.43 L461.69,158.18 L462.92,155.89 L464.14,153.58 L465.37,151.24 L466.60,148.87 L467.83,146.48 L469.06,144.05 L470.28,141.60 L471.51,139.12 L472.74,136.61 L473.97,134.07 L475.20,131.50 L476.43,128.90 L477.65,126.27 L478.88,123.61 L480.11,120.93 L481.34,118.21 L482.57,115.46 L483.79,112.68 L485.02,109.87 L486.25,107.03 L487.48,104.15 L488.71,101.25 L489.94,98.31 L491.16,95.34 L492.39,92.34 L493.62,89.31 L494.85,86.24 L496.08,83.14 L497.30,80.01 L498.53,76.85 L499.76,73.65 L500.99,70.41 L502.22,67.15 L503.45,63.85 L504.67,60.51 L505.90,57.14 L507.13,53.74 L508.36,50.30 L509.59,46.82 L510.81,43.31 L512.04,39.77 L513.27,36.19 L514.50,32.57 L515.73,28.91 L516.96,25.22 L518.18,21.49 L519.41,17.73 L520.64,13.93 L521.87,10.09 L523.10,6.21 L524.32,2.29 L525.55,-1.66 L526.78,-5.65 L528.01,-9.68" stroke="#ff8000" stroke-width="3.6" stroke-dasharray="6.5 6.41"/>
<path d="M92.00,237.44 L93.23,237.44 L94.46,237.45 L95.68,237.46 L96.91,237.48 L98.14,237.50 L99.37,237.53 L100.60,237.56 L101.83,237.59 L103.05,237.63 L104.28,237.68 L105.51,237.73 L106.74,237.78 L107.97,237.84 L109.19,237.90 L110.42,237.97 L111.65,238.04 L112.88,238.12 L114.11,238.20 L115.34,238.29 L116.56,238.38 L117.79,238.47 L119.02,238.57 L120.25,238.68 L121.48,238.79 L122.70,238.90 L123.93,239.02 L125.16,239.14 L126.39,239.27 L127.62,239.40 L128.85,239.54 L130.07,239.68 L131.30,239.82 L132.53,239.97 L133.76,240.13 L134.99,240.29 L136.22,240.45 L137.44,240.62 L138.67,240.79 L139.90,240.96 L141.13,241.14 L142.36,241.33 L143.58,241.51 L144.81,241.71 L146.04,241.90 L147.27,242.10 L148.50,242.31 L149.73,242.52 L150.95,242.73 L152.18,242.94 L153.41,243.17 L154.64,243.39 L155.87,243.62 L157.09,243.85 L158.32,244.09 L159.55,244.33 L160.78,244.57 L162.01,244.82 L163.24,245.07 L164.46,245.32 L165.69,245.58 L166.92,245.84 L168.15,246.11 L169.38,246.38 L170.60,246.65 L171.83,246.92 L173.06,247.20 L174.29,247.49 L175.52,247.77 L176.75,248.06 L177.97,248.35 L179.20,248.65 L180.43,248.95 L181.66,249.25 L182.89,249.55 L184.11,249.86 L185.34,250.17 L186.57,250.48 L187.80,250.80 L189.03,251.12 L190.26,251.44 L191.48,251.76 L192.71,252.09 L193.94,252.42 L195.17,252.75 L196.40,253.09 L197.62,253.43 L198.85,253.77 L200.08,254.11 L201.31,254.45 L202.54,254.80 L203.77,255.15 L204.99,255.50 L206.22,255.85 L207.45,256.20 L208.68,256.56 L209.91,256.92 L211.13,257.28 L212.36,257.64 L213.59,258.01 L214.82,258.37 L216.05,258.74 L217.28,259.11 L218.50,259.48 L219.73,259.85 L220.96,260.22 L222.19,260.59 L223.42,260.97 L224.65,261.34 L225.87,261.72 L227.10,262.10 L228.33,262.48 L229.56,262.86 L230.79,263.24 L232.01,263.62 L233.24,264.00 L234.47,264.38 L235.70,264.77 L236.93,265.15 L238.16,265.53 L239.38,265.92 L240.61,266.30 L241.84,266.69 L243.07,267.07 L244.30,267.45 L245.52,267.84 L246.75,268.22 L247.98,268.61 L249.21,268.99 L250.44,269.37 L251.67,269.75 L252.89,270.14 L254.12,270.52 L255.35,270.90 L256.58,271.28 L257.81,271.65 L259.03,272.03 L260.26,272.41 L261.49,272.78 L262.72,273.16 L263.95,273.53 L265.18,273.90 L266.40,274.27 L267.63,274.64 L268.86,275.00 L270.09,275.37 L271.32,275.73 L272.54,276.09 L273.77,276.45 L275.00,276.80 L276.23,277.16 L277.46,277.51 L278.69,277.86 L279.91,278.20 L281.14,278.55 L282.37,278.89 L283.60,279.22 L284.83,279.56 L286.05,279.89 L287.28,280.22 L288.51,280.55 L289.74,280.87 L290.97,281.19 L292.20,281.50 L293.42,281.81 L294.65,282.12 L295.88,282.43 L297.11,282.73 L298.34,283.02 L299.57,283.31 L300.79,283.60 L302.02,283.88 L303.25,284.16 L304.48,284.44 L305.71,284.71 L306.93,284.97 L308.16,285.23 L309.39,285.48 L310.62,285.73 L311.85,285.98 L313.08,286.22 L314.30,286.45 L315.53,286.68 L316.76,286.90 L317.99,287.12 L319.22,287.33 L320.44,287.53 L321.67,287.73 L322.90,287.92 L324.13,288.10 L325.36,288.28 L326.59,288.46 L327.81,288.62 L329.04,288.78 L330.27,288.93 L331.50,289.07 L332.73,289.21 L333.95,289.34 L335.18,289.46 L336.41,289.58 L337.64,289.68 L338.87,289.78 L340.10,289.87 L341.32,289.96 L342.55,290.03 L343.78,290.10 L345.01,290.15 L346.24,290.20 L347.46,290.24 L348.69,290.27 L349.92,290.30 L351.15,290.31 L352.38,290.31 L353.61,290.31 L354.83,290.29 L356.06,290.27 L357.29,290.23 L358.52,290.19 L359.75,290.13 L360.97,290.07 L362.20,289.99 L363.43,289.90 L364.66,289.81 L365.89,289.70 L367.12,289.58 L368.34,289.45 L369.57,289.31 L370.80,289.16 L372.03,288.99 L373.26,288.82 L374.48,288.63 L375.71,288.43 L376.94,288.22 L378.17,288.00 L379.40,287.76 L380.63,287.51 L381.85,287.25 L383.08,286.98 L384.31,286.69 L385.54,286.39 L386.77,286.08 L388.00,285.75 L389.22,285.41 L390.45,285.06 L391.68,284.69 L392.91,284.31 L394.14,283.91 L395.36,283.50 L396.59,283.08 L397.82,282.64 L399.05,282.18 L400.28,281.71 L401.51,281.23 L402.73,280.73 L403.96,280.21 L405.19,279.68 L406.42,279.14 L407.65,278.57 L408.87,277.99 L410.10,277.40 L411.33,276.79 L412.56,276.16 L413.79,275.52 L415.02,274.86 L416.24,274.18 L417.47,273.48 L418.70,272.77 L419.93,272.04 L421.16,271.29 L422.38,270.52 L423.61,269.74 L424.84,268.94 L426.07,268.11 L427.30,267.28 L428.53,266.42 L429.75,265.54 L430.98,264.64 L432.21,263.73 L433.44,262.79 L434.67,261.84 L435.89,260.86 L437.12,259.87 L438.35,258.85 L439.58,257.82 L440.81,256.76 L442.04,255.69 L443.26,254.59 L444.49,253.47 L445.72,252.33 L446.95,251.17 L448.18,249.99 L449.40,248.79 L450.63,247.56 L451.86,246.31 L453.09,245.04 L454.32,243.75 L455.55,242.44 L456.77,241.10 L458.00,239.74 L459.23,238.35 L460.46,236.94 L461.69,235.51 L462.92,234.06 L464.14,232.58 L465.37,231.07 L466.60,229.54 L467.83,227.99 L469.06,226.41 L470.28,224.81 L471.51,223.19 L472.74,221.53 L473.97,219.85 L475.20,218.15 L476.43,216.42 L477.65,214.66 L478.88,212.88 L480.11,211.07 L481.34,209.24 L482.57,207.37 L483.79,205.48 L485.02,203.57 L486.25,201.62 L487.48,199.65 L488.71,197.65 L489.94,195.62 L491.16,193.56 L492.39,191.48 L493.62,189.36 L494.85,187.22 L496.08,185.05 L497.30,182.85 L498.53,180.62 L499.76,178.36 L500.99,176.07 L502.22,173.74 L503.45,171.39 L504.67,169.01 L505.90,166.60 L507.13,164.15 L508.36,161.68 L509.59,159.17 L510.81,156.63 L512.04,154.06 L513.27,151.46 L514.50,148.83 L515.73,146.16 L516.96,143.46 L518.18,140.73 L519.41,137.96 L520.64,135.16 L521.87,132.33 L523.10,129.46 L524.32,126.56 L525.55,123.62 L526.78,120.65 L528.01,117.65 L529.24,114.61 L530.47,111.54 L531.69,108.43 L532.92,105.28 L534.15,102.10 L535.38,98.88 L536.61,95.63 L537.83,92.34 L539.06,89.01 L540.29,85.64 L541.52,82.24 L542.75,78.80 L543.98,75.33 L545.20,71.81 L546.43,68.26 L547.66,64.67 L548.89,61.04 L550.12,57.37 L551.35,53.66 L552.57,49.91 L553.80,46.13 L555.03,42.30 L556.26,38.43 L557.49,34.53 L558.71,30.58 L559.94,26.59 L561.17,22.56 L562.40,18.49 L563.63,14.38 L564.86,10.23 L566.08,6.03 L567.31,1.80 L568.54,-2.48 L569.77,-6.81 L571.00,-11.17" stroke="#ff8000" stroke-width="3.6" stroke-dasharray="6.5 6.41"/>
<path d="M92.00,174.63 L93.23,174.63 L94.46,174.64 L95.68,174.66 L96.91,174.68 L98.14,174.71 L99.37,174.75 L100.60,174.79 L101.83,174.85 L103.05,174.90 L104.28,174.97 L105.51,175.04 L106.74,175.12 L107.97,175.21 L109.19,175.30 L110.42,175.40 L111.65,175.51 L112.88,175.62 L114.11,175.74 L115.34,175.87 L116.56,176.00 L117.79,176.14 L119.02,176.29 L120.25,176.44 L121.48,176.60 L122.70,176.77 L123.93,176.94 L125.16,177.12 L126.39,177.31 L127.62,177.51 L128.85,177.71 L130.07,177.91 L131.30,178.13 L132.53,178.35 L133.76,178.57 L134.99,178.81 L136.22,179.05 L137.44,179.30 L138.67,179.55 L139.90,179.81 L141.13,180.07 L142.36,180.35 L143.58,180.63 L144.81,180.91 L146.04,181.20 L147.27,181.50 L148.50,181.81 L149.73,182.12 L150.95,182.43 L152.18,182.76 L153.41,183.08 L154.64,183.42 L155.87,183.76 L157.09,184.11 L158.32,184.46 L159.55,184.82 L160.78,185.19 L162.01,185.56 L163.24,185.94 L164.46,186.32 L165.69,186.71 L166.92,187.11 L168.15,187.51 L169.38,187.91 L170.60,188.33 L171.83,188.74 L173.06,189.17 L174.29,189.60 L175.52,190.03 L176.75,190.47 L177.97,190.92 L179.20,191.37 L180.43,191.83 L181.66,192.29 L182.89,192.76 L184.11,193.23 L185.34,193.71 L186.57,194.19 L187.80,194.68 L189.03,195.17 L190.26,195.67 L191.48,196.18 L192.71,196.68 L193.94,197.20 L195.17,197.72 L196.40,198.24 L197.62,198.77 L198.85,199.30 L200.08,199.84 L201.31,200.38 L202.54,200.93 L203.77,201.48 L204.99,202.03 L206.22,202.59 L207.45,203.16 L208.68,203.73 L209.91,204.30 L211.13,204.88 L212.36,205.46 L213.59,206.04 L214.82,206.63 L216.05,207.23 L217.28,207.82 L218.50,208.42 L219.73,209.03 L220.96,209.64 L222.19,210.25 L223.42,210.87 L224.65,211.49 L225.87,212.11 L227.10,212.73 L228.33,213.36 L229.56,214.00 L230.79,214.63 L232.01,215.27 L233.24,215.91 L234.47,216.56 L235.70,217.21 L236.93,217.86 L238.16,218.51 L239.38,219.17 L240.61,219.83 L241.84,220.49 L243.07,221.16 L244.30,221.82 L245.52,222.49 L246.75,223.16 L247.98,223.84 L249.21,224.51 L250.44,225.19 L251.67,225.87 L252.89,226.55 L254.12,227.24 L255.35,227.92 L256.58,228.61 L257.81,229.30 L259.03,229.99 L260.26,230.68 L261.49,231.38 L262.72,232.07 L263.95,232.77 L265.18,233.47 L266.40,234.16 L267.63,234.86 L268.86,235.56 L270.09,236.26 L271.32,236.97 L272.54,237.67 L273.77,238.37 L275.00,239.07 L276.23,239.78 L277.46,240.48 L278.69,241.19 L279.91,241.89 L281.14,242.60 L282.37,243.30 L283.60,244.00 L284.83,244.71 L286.05,245.41 L287.28,246.12 L288.51,246.82 L289.74,247.52 L290.97,248.22 L292.20,248.92 L293.42,249.62 L294.65,250.32 L295.88,251.02 L297.11,251.72 L298.34,252.41 L299.57,253.10 L300.79,253.80 L302.02,254.49 L303.25,255.18 L304.48,255.86 L305.71,256.55 L306.93,257.23 L308.16,257.91 L309.39,258.59 L310.62,259.27 L311.85,259.95 L313.08,260.62 L314.30,261.29 L315.53,261.95 L316.76,262.62 L317.99,263.28 L319.22,263.94 L320.44,264.59 L321.67,265.24 L322.90,265.89 L324.13,266.54 L325.36,267.18 L326.59,267.82 L327.81,268.45 L329.04,269.08 L330.27,269.70 L331.50,270.33 L332.73,270.94 L333.95,271.56 L335.18,272.17 L336.41,272.77 L337.64,273.37 L338.87,273.96 L340.10,274.55 L341.32,275.14 L342.55,275.72 L343.78,276.29 L345.01,276.86 L346.24,277.42 L347.46,277.98 L348.69,278.53 L349.92,279.08 L351.15,279.62 L352.38,280.15 L353.61,280.68 L354.83,281.20 L356.06,281.71 L357.29,282.22 L358.52,282.72 L359.75,283.22 L360.97,283.70 L362.20,284.18 L363.43,284.66 L364.66,285.12 L365.89,285.58 L367.12,286.03 L368.34,286.47 L369.57,286.91 L370.80,287.33 L372.03,287.75 L373.26,288.16 L374.48,288.56 L375.71,288.95 L376.94,289.34 L378.17,289.71 L379.40,290.08 L380.63,290.43 L381.85,290.78 L383.08,291.12 L384.31,291.45 L385.54,291.77 L386.77,292.08 L388.00,292.37 L389.22,292.66 L390.45,292.94 L391.68,293.21 L392.91,293.47 L394.14,293.72 L395.36,293.95 L396.59,294.18 L397.82,294.39 L399.05,294.59 L400.28,294.78 L401.51,294.96 L402.73,295.13 L403.96,295.29 L405.19,295.43 L406.42,295.57 L407.65,295.68 L408.87,295.79 L410.10,295.89 L411.33,295.97 L412.56,296.04 L413.79,296.09 L415.02,296.14 L416.24,296.17 L417.47,296.18 L418.70,296.18 L419.93,296.17 L421.16,296.15 L422.38,296.11 L423.61,296.05 L424.84,295.98 L426.07,295.90 L427.30,295.80 L428.53,295.69 L429.75,295.56 L430.98,295.42 L432.21,295.26 L433.44,295.09 L434.67,294.90 L435.89,294.69 L437.12,294.47 L438.35,294.23 L439.58,293.98 L440.81,293.71 L442.04,293.42 L443.26,293.11 L444.49,292.79 L445.72,292.45 L446.95,292.10 L448.18,291.72 L449.40,291.33 L450.63,290.92 L451.86,290.49 L453.09,290.05 L454.32,289.58 L455.55,289.10 L456.77,288.60 L458.00,288.08 L459.23,287.54 L460.46,286.98 L461.69,286.40 L462.92,285.80 L464.14,285.18 L465.37,284.54 L466.60,283.89 L467.83,283.21 L469.06,282.51 L470.28,281.79 L471.51,281.05 L472.74,280.29 L473.97,279.50 L475.20,278.70 L476.43,277.87 L477.65,277.02 L478.88,276.15 L480.11,275.26 L481.34,274.35 L482.57,273.41 L483.79,272.45 L485.02,271.47 L486.25,270.46 L487.48,269.43 L488.71,268.38 L489.94,267.31 L491.16,266.21 L492.39,265.08 L493.62,263.93 L494.85,262.76 L496.08,261.56 L497.30,260.34 L498.53,259.09 L499.76,257.82 L500.99,256.52 L502.22,255.20 L503.45,253.85 L504.67,252.48 L505.90,251.07 L507.13,249.65 L508.36,248.19 L509.59,246.71 L510.81,245.20 L512.04,243.67 L513.27,242.11 L514.50,240.52 L515.73,238.90 L516.96,237.25 L518.18,235.58 L519.41,233.88 L520.64,232.15 L521.87,230.39 L523.10,228.60 L524.32,226.78 L525.55,224.93 L526.78,223.06 L528.01,221.15 L529.24,219.21 L530.47,217.25 L531.69,215.25 L532.92,213.22 L534.15,211.16 L535.38,209.07 L536.61,206.95 L537.83,204.80 L539.06,202.61 L540.29,200.40 L541.52,198.15 L542.75,195.87 L543.98,193.56 L545.20,191.21 L546.43,188.83 L547.66,186.42 L548.89,183.97 L550.12,181.49 L551.35,178.98 L552.57,176.43 L553.80,173.85 L555.03,171.24 L556.26,168.59 L557.49,165.90 L558.71,163.18 L559.94,160.42 L561.17,157.63 L562.40,154.80 L563.63,151.94 L564.86,149.04 L566.08,146.10 L567.31,143.13 L568.54,140.12 L569.77,137.07 L571.00,133.99 L572.22,130.86 L573.45,127.70 L574.68,124.50 L575.91,121.27 L577.14,117.99 L578.37,114.68 L579.59,111.32 L580.82,107.93 L582.05,104.50" stroke="#ff8000" stroke-width="3.6" stroke-dasharray="6.5 6.41"/>
</g>
<path d="M92.00,310.5v-5.7M92.00,2.5v5.7M108.51,310.5v-3.5M108.51,2.5v3.5M125.01,310.5v-3.5M125.01,2.5v3.5M141.52,310.5v-3.5M141.52,2.5v3.5M158.02,310.5v-5.7M158.02,2.5v5.7M174.53,310.5v-3.5M174.53,2.5v3.5M191.04,310.5v-3.5M191.04,2.5v3.5M207.54,310.5v-3.5M207.54,2.5v3.5M224.05,310.5v-5.7M224.05,2.5v5.7M240.55,310.5v-3.5M240.55,2.5v3.5M257.06,310.5v-3.5M257.06,2.5v3.5M273.57,310.5v-3.5M273.57,2.5v3.5M290.07,310.5v-5.7M290.07,2.5v5.7M306.58,310.5v-3.5M306.58,2.5v3.5M323.08,310.5v-3.5M323.08,2.5v3.5M339.59,310.5v-3.5M339.59,2.5v3.5M356.10,310.5v-5.7M356.10,2.5v5.7M372.60,310.5v-3.5M372.60,2.5v3.5M389.11,310.5v-3.5M389.11,2.5v3.5M405.61,310.5v-3.5M405.61,2.5v3.5M422.12,310.5v-5.7M422.12,2.5v5.7M438.63,310.5v-3.5M438.63,2.5v3.5M455.13,310.5v-3.5M455.13,2.5v3.5M471.64,310.5v-3.5M471.64,2.5v3.5M488.14,310.5v-5.7M488.14,2.5v5.7M504.65,310.5v-3.5M504.65,2.5v3.5M521.16,310.5v-3.5M521.16,2.5v3.5M537.66,310.5v-3.5M537.66,2.5v3.5M554.17,310.5v-5.7M554.17,2.5v5.7M570.67,310.5v-3.5M570.67,2.5v3.5M82.1,295.33h3.4M580.5,295.33h-3.4M82.1,278.00h5.7M580.5,278.00h-5.7M82.1,260.67h3.4M580.5,260.67h-3.4M82.1,243.33h3.4M580.5,243.33h-3.4M82.1,226.00h3.4M580.5,226.00h-3.4M82.1,208.67h3.4M580.5,208.67h-3.4M82.1,191.33h5.7M580.5,191.33h-5.7M82.1,174.00h3.4M580.5,174.00h-3.4M82.1,156.67h3.4M580.5,156.67h-3.4M82.1,139.33h3.4M580.5,139.33h-3.4M82.1,122.00h3.4M580.5,122.00h-3.4M82.1,104.67h5.7M580.5,104.67h-5.7M82.1,87.33h3.4M580.5,87.33h-3.4M82.1,70.00h3.4M580.5,70.00h-3.4M82.1,52.67h3.4M580.5,52.67h-3.4M82.1,35.33h3.4M580.5,35.33h-3.4M82.1,18.00h5.7M580.5,18.00h-5.7" stroke="#666666" stroke-width="1" fill="none"/>
<rect x="82.1" y="2.5" width="498.4" height="308.0" fill="none" stroke="#666666" stroke-width="1"/>
<g font-family="'Liberation Sans', sans-serif" font-size="24.0" fill="#000" opacity="0.999">
<text x="92.00" y="337" text-anchor="middle" font-size="24.2">0</text>
<text x="158.02" y="337" text-anchor="middle" font-size="24.2">2</text>
<text x="224.05" y="337" text-anchor="middle" font-size="24.2">4</text>
<text x="290.07" y="337" text-anchor="middle" font-size="24.2">6</text>
<text x="356.10" y="337" text-anchor="middle" font-size="24.2">8</text>
<text x="422.12" y="337" text-anchor="middle" font-size="24.2">10</text>
<text x="488.14" y="337" text-anchor="middle" font-size="24.2">12</text>
<text x="554.17" y="337" text-anchor="middle" font-size="24.2">14</text>
<text x="77.3" y="286" text-anchor="end" font-size="24.3">150</text>
<text x="77.3" y="200" text-anchor="end" font-size="24.3">155</text>
<text x="77.3" y="113" text-anchor="end" font-size="24.3">160</text>
<text x="77.3" y="26" text-anchor="end" font-size="24.3">165</text>
<text x="328.8" y="374.2" text-anchor="middle">r</text>
<text transform="translate(21.8,192.6) rotate(-90) scale(0.9,1)" font-style="italic">V</text>
<text transform="translate(26.7,177.5) rotate(-90)" font-size="17.6" letter-spacing="-0.42">bubble</text>
<path d="M598.2,84.1H662.3" stroke="#000000" stroke-width="2.5" fill="none"/>
<text x="674.5" y="90" font-size="24.15">Δ/Θ = 0.05</text>
<path d="M599.0,137.6H662.3" stroke="#ff0000" stroke-width="2.7" fill="none" stroke-dasharray="11.5 10.9"/>
<text x="674.5" y="144" font-size="24.15">Δ/Θ = 0.1</text>
<path d="M598.8,191.2H657" stroke="#0000ff" stroke-width="2.7" fill="none" stroke-dasharray="2.3 6 7 5.7"/>
<text x="674.5" y="198" font-size="24.15">Δ/Θ = 0.2</text>
<path d="M599.1,245.0H661.4" stroke="#00ff00" stroke-width="2.7" fill="none" stroke-dasharray="2.8 2.8"/>
<text x="674.5" y="251" font-size="24.15">Δ/Θ = 0.3</text>
<path d="M599.3,298.45H662.3" stroke="#ff8000" stroke-width="3.1" fill="none" stroke-dasharray="6.6 6.3"/>
<text x="674.5" y="305" font-size="24.15">MH approach</text>
</g>
</svg>
</body></html>
